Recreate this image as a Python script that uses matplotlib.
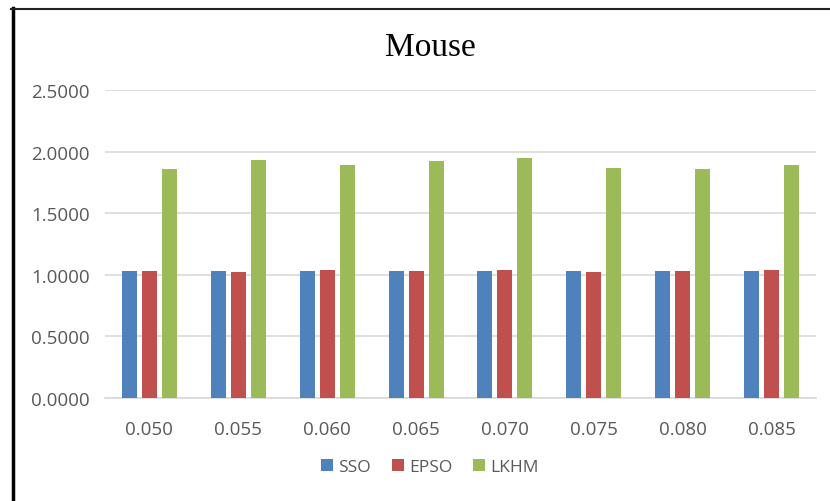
import numpy as np
import matplotlib.pyplot as plt
from matplotlib.lines import Line2D

# data
categories = ['0.050', '0.055', '0.060', '0.065', '0.070', '0.075', '0.080', '0.085']
sso = [1.027, 1.027, 1.027, 1.032, 1.030, 1.027, 1.027, 1.032]
epso = [1.027, 1.025, 1.035, 1.030, 1.035, 1.026, 1.033, 1.035]
lkhm = [1.855, 1.928, 1.891, 1.923, 1.945, 1.869, 1.861, 1.888]

fig = plt.figure(figsize=(8.3, 5.02), dpi=100)
ax = fig.add_axes([105 / 830, 1 - 399 / 502, 711 / 830, 308 / 502])

x = np.arange(len(categories))
w = 0.17
step = 0.225
ax.bar(x - step, sso, w, color='#4F81BD', label='SSO', zorder=3)
ax.bar(x, epso, w, color='#C0504D', label='EPSO', zorder=3)
ax.bar(x + step, lkhm, w, color='#9BBB59', label='LKHM', zorder=3)

ax.set_xlim(-0.5, len(categories) - 0.5)
ax.set_ylim(0, 2.5)
ax.set_yticks(np.arange(0, 2.51, 0.5))
ax.set_yticklabels(['%.4f' % v for v in np.arange(0, 2.51, 0.5)])
ax.set_xticks(x)
ax.set_xticklabels(categories)
ax.grid(axis='y', color='#D9D9D9', linewidth=1.2, zorder=0)
for s in ['top', 'right', 'left']:
    ax.spines[s].set_visible(False)
ax.spines['bottom'].set_color('#D9D9D9')
ax.spines['bottom'].set_linewidth(1.2)
ax.tick_params(length=0, labelsize=13.5, labelcolor='#595959')
ax.tick_params(axis='x', pad=16)
ax.tick_params(axis='y', pad=11)
for lab in ax.get_xticklabels() + ax.get_yticklabels():
    lab.set_family('Open Sans')

fig.text(0.518, 1 - 48 / 502, 'Mouse', ha='center', va='center',
         fontsize=24, family='Liberation Serif', color='black')

fig.legend(loc='center', bbox_to_anchor=(0.518, 1 - 468 / 502), ncol=3,
           frameon=False, handlelength=0.7, handleheight=0.7, handletextpad=0.3,
           columnspacing=1.2, prop={'family': 'Open Sans', 'size': 12.5},
           labelcolor='#595959')

# outer frame (left and top edges only)
fig.add_artist(Line2D([12.5 / 830, 12.5 / 830], [0, 1 - 9 / 502],
                      transform=fig.transFigure, color='black', linewidth=2.5))
fig.add_artist(Line2D([11 / 830, 1], [1 - 9.5 / 502, 1 - 9.5 / 502],
                      transform=fig.transFigure, color='#222222', linewidth=1.5))

fig.savefig('out.png', dpi=100)
